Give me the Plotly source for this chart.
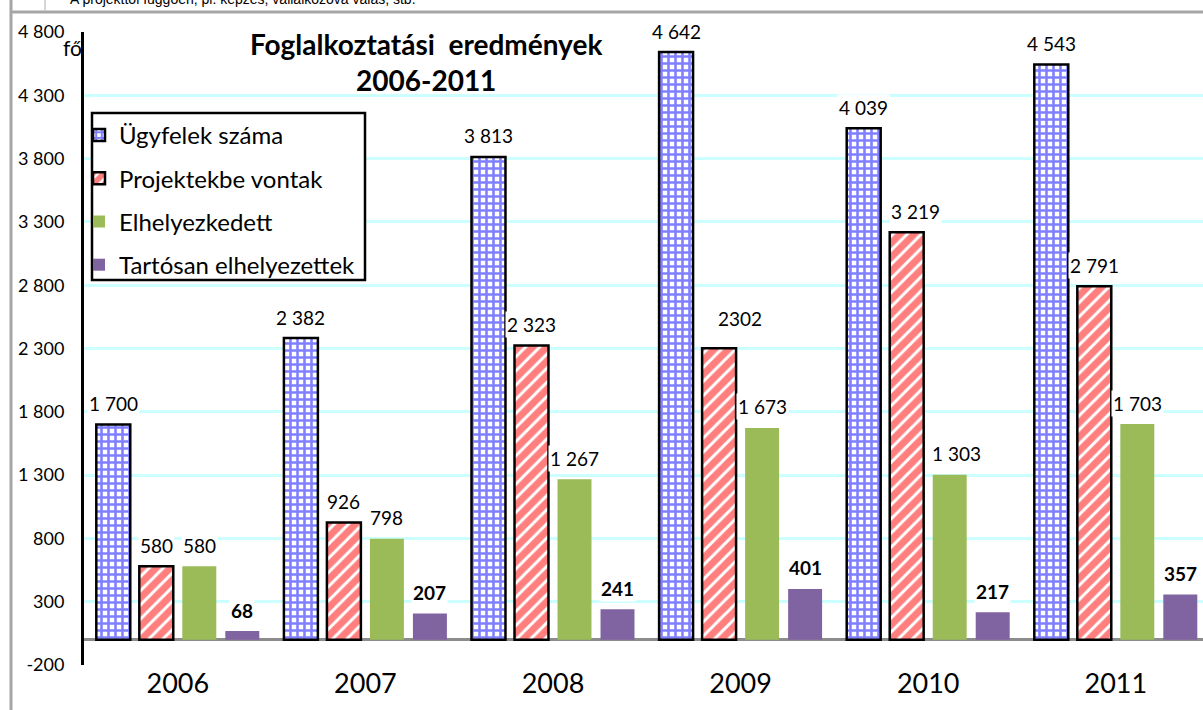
import plotly.graph_objects as go

years = ["2006", "2007", "2008", "2009", "2010", "2011"]
ugyfelek = [1700, 2382, 3813, 4642, 4039, 4543]
projekt = [580, 926, 2323, 2302, 3219, 2791]
elhely = [580, 798, 1267, 1673, 1303, 1703]
tartos = [68, 207, 241, 401, 217, 357]

ugyfelek_txt = ["1 700", "2 382", "3 813", "4 642", "4 039", "4 543"]
projekt_txt = ["580", "926", "2 323", "2302", "3 219", "2 791"]
elhely_txt = ["580", "798", "1 267", "1 673", "1 303", "1 703"]
tartos_txt = ["68", "207", "241", "401", "217", "357"]

series_names = ["Ügyfelek száma", "Projektekbe vontak", "Elhelyezkedett", "Tartósan elhelyezettek"]

yticks = [-200, 300, 800, 1300, 1800, 2300, 2800, 3300, 3800, 4300, 4800]
yticktext = ["-200", "300", "800", "1 300", "1 800", "2 300", "2 800", "3 300", "3 800", "4 300", "4 800"]

FONT = "Lato"
W, H = 1203, 710
L, T, B = 84, 32, 45
PW, PH = W - L, H - T - B


def px(xp):
    return (xp - L) / PW


def py(yp):
    return 1 - (yp - T) / PH


fig = go.Figure()
fig.add_trace(go.Bar(
    x=years, y=ugyfelek, name=series_names[0], legendgroup="a",
    marker=dict(color="white", line=dict(color="black", width=2.5),
                pattern=dict(shape="+", fgcolor="#0000FF", bgcolor="white", size=7, solidity=0.6)),
))
fig.add_trace(go.Bar(
    x=years, y=projekt, name=series_names[1], legendgroup="b",
    marker=dict(color="white", line=dict(color="black", width=2.5),
                pattern=dict(shape="/", fgcolor="#FF0000", bgcolor="white", size=10, solidity=0.7)),
))
fig.add_trace(go.Bar(
    x=years, y=elhely, name=series_names[2], legendgroup="c",
    marker=dict(color="#9BBB59", line=dict(width=0)),
))
fig.add_trace(go.Bar(
    x=years, y=tartos, name=series_names[3], legendgroup="d",
    marker=dict(color="#8064A2", line=dict(width=0)),
))

# value labels
pitch_px = 43
offsets = [-1.5 * pitch_px, -0.5 * pitch_px, 0.5 * pitch_px, 1.5 * pitch_px]
all_vals = [ugyfelek, projekt, elhely, tartos]
all_txt = [ugyfelek_txt, projekt_txt, elhely_txt, tartos_txt]
for si, (vals, txts) in enumerate(zip(all_vals, all_txt)):
    for yi, (v, t) in enumerate(zip(vals, txts)):
        xs, ys = offsets[si], 21
        if si == 1 and yi == 3:
            xs += 21
            ys = 30
        if si == 1 and yi == 4:
            xs += 9
        if si == 2 and yi == 4:
            xs += 7
        fig.add_annotation(
            x=yi, y=v, xref="x", yref="y", text=(f"<b>{t}</b>" if si == 3 else t),
            showarrow=False, xshift=xs, yshift=ys, yanchor="middle", xanchor="center",
            font=dict(family=FONT, size=19, color="black"), bgcolor="white",
        )

# legend box (drawn as a shape, legend itself borderless)
fig.add_shape(type="rect", xref="paper", yref="paper",
              x0=px(92), x1=px(365), y0=py(113), y1=py(280),
              line=dict(color="black", width=2.5), fillcolor="white", layer="above")

# title
fig.add_annotation(
    x=px(426), y=py(62), xref="paper", yref="paper",
    text="<b>Foglalkoztatási  eredmények</b><br><b>2006-2011</b>", showarrow=False,
    font=dict(family=FONT, size=28, color="black"), xanchor="center", yanchor="middle",
    align="center",
)
# unit label
fig.add_annotation(
    x=px(72), y=py(47), xref="paper", yref="paper",
    text="fő", showarrow=False, font=dict(family=FONT, size=21, color="black"),
    xanchor="center", yanchor="middle",
)
# top (cut-off) document text
fig.add_annotation(
    x=px(68), y=py(-1), xref="paper", yref="paper",
    text="A projekttől függően, pl. képzés, vállalkozóvá válás, stb.", showarrow=False,
    font=dict(family="Liberation Sans", size=14, color="black"),
    xanchor="left", yanchor="middle",
)

# document frame lines
fig.add_shape(type="line", xref="paper", yref="paper",
              x0=px(11), x1=px(11), y0=py(0), y1=py(H),
              line=dict(color="#A6A6A6", width=3))
fig.add_shape(type="line", xref="paper", yref="paper",
              x0=px(10), x1=px(W), y0=py(12), y1=py(12),
              line=dict(color="#A6A6A6", width=3))
fig.add_shape(type="line", xref="paper", yref="paper",
              x0=px(45), x1=px(45), y0=py(0), y1=py(11),
              line=dict(color="#C8C8C8", width=1.5))

fig.update_layout(
    width=W, height=H,
    margin=dict(l=L, r=0, t=T, b=B, autoexpand=False),
    paper_bgcolor="white", plot_bgcolor="white",
    barmode="group", bargap=0.083, bargroupgap=0.21,
    font=dict(family=FONT, color="black"),
    showlegend=True,
    legend=dict(
        x=px(79), y=py(113), xanchor="left", yanchor="top",
        bgcolor="rgba(0,0,0,0)", borderwidth=0,
        font=dict(family=FONT, size=24, color="black"),
        traceorder="grouped", tracegroupgap=9,
    ),
    xaxis=dict(
        type="category", range=[-0.5, -0.5 + PW / 187.6], automargin=False,
        showgrid=False, showline=False, ticks="",
        tickfont=dict(family=FONT, size=27, color="black"),
        ticklabelstandoff=0,
    ),
    yaxis=dict(
        range=[-200, 4800], tickvals=yticks, ticktext=yticktext, automargin=False,
        showgrid=True, gridcolor="#CCFFFF", gridwidth=3,
        zeroline=True, zerolinecolor="#8C8C8C", zerolinewidth=3,
        showline=True, linecolor="black", linewidth=3,
        ticks="", ticklabelstandoff=13,
        tickfont=dict(family=FONT, size=18, color="black"),
    ),
)

fig.write_html("out.html", config={"displayModeBar": False},
               post_script="document.body.style.margin='0';document.body.style.overflow='hidden';")
